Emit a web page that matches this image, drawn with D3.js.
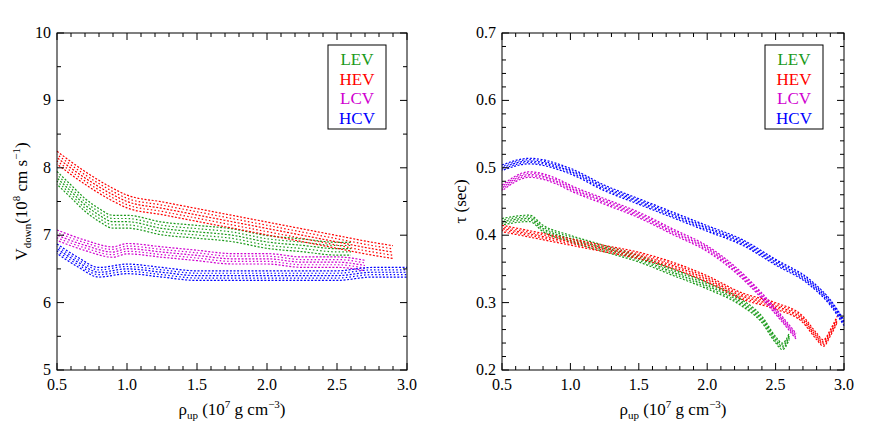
<!DOCTYPE html>
<html><head><meta charset="utf-8">
<script src="https://cdn.jsdelivr.net/npm/d3@7"></script>
<style>body{margin:0;background:#fff}text{font-family:"Liberation Serif",serif}</style>
</head><body><svg id="c" width="872" height="436"></svg>
<script>
// velocity panel: [rho, V]
const vLEV = [[0.5,7.85],[0.6,7.65],[0.7,7.45],[0.8,7.3],[0.9,7.2],[1.0,7.2],[1.25,7.1],[1.5,7.05],[1.75,7.0],[2.0,6.9],[2.25,6.85],[2.5,6.8],[2.6,6.8]];
const vHEV = [[0.5,8.15],[0.7,7.85],[0.9,7.6],[1.0,7.5],[1.25,7.4],[1.5,7.3],[1.75,7.2],[2.0,7.1],[2.25,7.0],[2.5,6.9],[2.75,6.8],[2.9,6.75]];
const vLCV = [[0.5,7.0],[0.7,6.85],[0.9,6.75],[1.0,6.8],[1.25,6.75],[1.5,6.7],[1.75,6.65],[2.0,6.65],[2.25,6.6],[2.5,6.6],[2.7,6.55]];
const vHCV = [[0.5,6.8],[0.65,6.6],[0.8,6.45],[1.0,6.5],[1.25,6.45],[1.5,6.4],[1.75,6.4],[2.0,6.4],[2.25,6.4],[2.5,6.4],[2.75,6.45],[3.0,6.45]];
// tau panel
const tLEV = [[0.5,0.42],[0.7,0.425],[0.8,0.41],[1.0,0.395],[1.25,0.38],[1.5,0.365],[1.75,0.345],[2.0,0.325],[2.25,0.3],[2.4,0.275],[2.5,0.245],[2.55,0.235],[2.6,0.25]];
const tHEV = [[0.5,0.41],[0.75,0.4],[1.0,0.39],[1.25,0.38],[1.5,0.37],[1.75,0.355],[2.0,0.335],[2.25,0.31],[2.5,0.295],[2.7,0.275],[2.8,0.25],[2.85,0.24],[2.9,0.255],[2.95,0.275]];
const tLCV = [[0.5,0.47],[0.7,0.49],[0.9,0.48],[1.0,0.47],[1.25,0.45],[1.5,0.43],[1.75,0.405],[2.0,0.38],[2.2,0.35],[2.4,0.31],[2.55,0.275],[2.65,0.25]];
const tHCV = [[0.5,0.5],[0.7,0.51],[1.0,0.495],[1.25,0.47],[1.5,0.45],[1.75,0.43],[2.0,0.41],[2.25,0.39],[2.5,0.36],[2.75,0.33],[2.9,0.3],[3.0,0.27]];
const names = ['LEV','HEV','LCV','HCV'];
const colors = ['#1a9a1a','#ff0000','#d000d0','#0000ff'];
const xTicks = [0.5,1.0,1.5,2.0,2.5,3.0];

const svg = d3.select('#c');

function panel(x0, x1, yDom, yTicks, yMinor, fmt, series, bandW, legX, ylab) {
  const top = 33, bot = 370;
  const x = d3.scaleLinear().domain([0.5,3.0]).range([x0,x1]);
  const y = d3.scaleLinear().domain(yDom).range([bot,top]);
  const g = svg.append('g');
  const line = d3.line().x(d => x(d[0])).y(d => y(d[1])).curve(d3.curveMonotoneX);
  series.forEach((s, i) => {
    // scatter-like band: several dotted strands around the centre line
    const n = 5;
    for (let k = 0; k < n; k++) {
      const off = (k - (n-1)/2) * bandW[i] / n;
      g.append('path').attr('d', line(s)).attr('fill','none')
        .attr('transform', `translate(0,${off})`)
        .attr('stroke', colors[i]).attr('stroke-width', 1.2)
        .attr('stroke-dasharray', k % 2 ? '1.5 2.2' : '2 1.6')
        .attr('stroke-dashoffset', k * 1.3);
    }
  });
  g.append('rect').attr('x',x0).attr('y',top).attr('width',x1-x0).attr('height',bot-top)
    .attr('fill','none').attr('stroke','#000');
  const xm = d3.range(5,31).map(v => v/10);
  xm.forEach(v => {
    const L = xTicks.some(t => Math.abs(t-v)<1e-6) ? 7 : 4;
    g.append('line').attr('x1',x(v)).attr('x2',x(v)).attr('y1',bot).attr('y2',bot-L).attr('stroke','#000');
    g.append('line').attr('x1',x(v)).attr('x2',x(v)).attr('y1',top).attr('y2',top+L).attr('stroke','#000');
  });
  xTicks.forEach(v => g.append('text').attr('x',x(v)).attr('y',bot+20).attr('text-anchor','middle')
    .attr('font-size',16).text(v.toFixed(1)));
  yMinor.forEach(v => {
    const L = yTicks.some(t => Math.abs(t-v)<1e-6) ? 7 : 4;
    g.append('line').attr('x1',x0).attr('x2',x0+L).attr('y1',y(v)).attr('y2',y(v)).attr('stroke','#000');
    g.append('line').attr('x1',x1).attr('x2',x1-L).attr('y1',y(v)).attr('y2',y(v)).attr('stroke','#000');
  });
  yTicks.forEach(v => g.append('text').attr('x',x0-6).attr('y',y(v)+5).attr('text-anchor','end')
    .attr('font-size',16).text(fmt(v)));
  const xl = g.append('text').attr('x',(x0+x1)/2).attr('y',415).attr('text-anchor','middle').attr('font-size',17);
  xl.append('tspan').text('ρ');
  xl.append('tspan').attr('font-size',11).attr('dy',4).text('up');
  xl.append('tspan').attr('dy',-4).text(' (10');
  xl.append('tspan').attr('font-size',11).attr('dy',-7).text('7');
  xl.append('tspan').attr('dy',7).text(' g cm');
  xl.append('tspan').attr('font-size',11).attr('dy',-7).text('−3');
  xl.append('tspan').attr('dy',7).text(')');
  ylab(g, (top+bot)/2);
  g.append('rect').attr('x',legX).attr('y',45).attr('width',58).attr('height',84)
    .attr('fill','#fff').attr('stroke','#000');
  names.forEach((n,i) => g.append('text').attr('x',legX+29).attr('y',65+i*19.5)
    .attr('text-anchor','middle').attr('font-size',17).attr('fill',colors[i]).text(n));
}

panel(57, 407, [5,10], [5,6,7,8,9,10], d3.range(50,101,5).map(v=>v/10), d3.format('d'),
  [vLEV,vHEV,vLCV,vHCV], [16,16,13,12], 328, (g, cy) => {
    const t = g.append('text').attr('transform',`translate(27,${cy}) rotate(-90)`)
      .attr('text-anchor','middle').attr('font-size',17);
    t.append('tspan').text('V');
    t.append('tspan').attr('font-size',11).attr('dy',4).text('down');
    t.append('tspan').attr('dy',-4).text('(10');
    t.append('tspan').attr('font-size',11).attr('dy',-7).text('8');
    t.append('tspan').attr('dy',7).text(' cm s');
    t.append('tspan').attr('font-size',11).attr('dy',-7).text('−1');
    t.append('tspan').attr('dy',7).text(')');
  });

panel(502, 844, [0.2,0.7], [0.2,0.3,0.4,0.5,0.6,0.7], d3.range(20,71,2).map(v=>v/100), d3.format('.1f'),
  [tLEV,tHEV,tLCV,tHCV], [8,8,7,7], 765, (g, cy) => {
    g.append('text').attr('transform',`translate(466,${cy}) rotate(-90)`)
      .attr('text-anchor','middle').attr('font-size',17).text('τ (sec)');
  });
</script></body></html>
